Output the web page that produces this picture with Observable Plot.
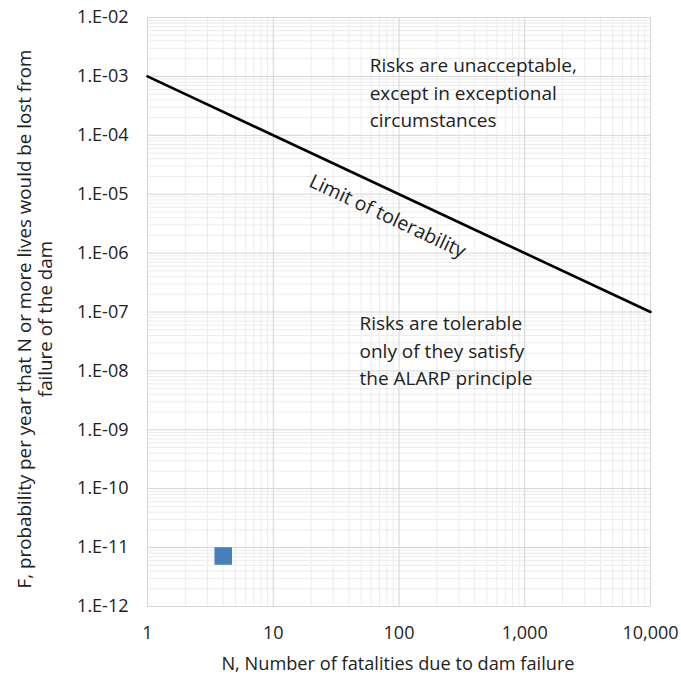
<!DOCTYPE html>
<html>
<head>
<meta charset="utf-8">
<script src="https://cdn.jsdelivr.net/npm/d3@7"></script>
<script src="https://cdn.jsdelivr.net/npm/@observablehq/plot@0.6"></script>
<style>
  html, body { margin: 0; padding: 0; background: #fff; }
  #chart { width: 681px; height: 676px; }
  svg { font-family: "Open Sans", "Noto Sans", sans-serif; }
</style>
</head>
<body>
<div id="chart"></div>
<script>
// Data
const limitN = [1, 10000];
const limitF = [1e-3, 1e-7];
const damN = [4];
const damF = [7.2e-12];
const xTicks = [1, 10, 100, 1000, 10000];
const yTicks = [1e-12, 1e-11, 1e-10, 1e-9, 1e-8, 1e-7, 1e-6, 1e-5, 1e-4, 1e-3, 1e-2];
const textUnacceptable = ["Risks are unacceptable,", "except in exceptional", "circumstances"];
const textTolerable = ["Risks are tolerable", "only of they satisfy", "the ALARP principle"];
const textLimit = "Limit of tolerability";
const xTitle = "N, Number of fatalities due to dam failure";
const yTitle = ["F, probability per year that N or more lives would be lost from", "failure of the dam"];

const limit = limitN.map((n, i) => ({N: n, F: limitF[i]}));
const dam = damN.map((n, i) => ({N: n, F: damF[i]}));

// grid values
const xMinor = [];
for (let e = 0; e < 4; e++) for (let k = 2; k <= 9; k++) xMinor.push(k * 10 ** e);
const yMinor = [];
for (let e = -12; e < -2; e++) for (let k = 2; k <= 9; k++) yMinor.push(k * 10 ** e);

const yFmt = d => "1.E-" + String(Math.round(-Math.log10(d))).padStart(2, "0");

const plot = Plot.plot({
  width: 681,
  height: 676,
  marginLeft: 147,
  marginRight: 31,
  marginTop: 17,
  marginBottom: 70,
  style: {fontFamily: "'Open Sans', sans-serif", fontSize: "18px", color: "#222", background: "#fff"},
  x: {type: "log", domain: [1, 10000], label: null},
  y: {type: "log", domain: [1e-12, 1e-2], label: null},
  marks: [
    Plot.ruleX(xMinor, {stroke: "#ececec", strokeWidth: 1}),
    Plot.ruleY(yMinor, {stroke: "#ececec", strokeWidth: 1}),
    Plot.ruleX(xTicks, {stroke: "#d4d4d4", strokeWidth: 1}),
    Plot.ruleY(yTicks, {stroke: "#d4d4d4", strokeWidth: 1}),
    Plot.line(limit, {x: "N", y: "F", stroke: "#000", strokeWidth: 2.6}),
    Plot.dot(dam, {x: "N", y: "F", symbol: "square", r: 9.9, fill: "#4a7ebb", stroke: "none"}),
    Plot.axisX({ticks: xTicks, tickFormat: d3.format(","), tickSize: 0, tickPadding: 20, label: null, fontSize: 18}),
    Plot.axisY({ticks: yTicks, tickFormat: yFmt, tickSize: 0, tickPadding: 19, label: null, fontSize: 18})
  ]
});

const svg = d3.select(plot);
svg.selectAll('g[aria-label="x-axis tick label"], g[aria-label="y-axis tick label"]')
  .style("font-size", "18px").attr("fill", "#222");

const sx = plot.scale("x"), sy = plot.scale("y");
const add = (x, y, lines, opts = {}) => {
  const t = svg.append("text")
    .attr("x", x).attr("y", y)
    .attr("font-size", opts.size || 19)
    .attr("fill", "#222")
    .attr("text-anchor", opts.anchor || "start");
  if (opts.rotate != null) t.attr("transform", `rotate(${opts.rotate},${x},${y})`);
  lines.forEach((l, i) => t.append("tspan").attr("x", x).attr("dy", i === 0 ? "0.35em" : (opts.lh || 27.5) + "px").text(l));
};
add(sx.apply(59), sy.apply(1.5e-3), textUnacceptable);
add(sx.apply(49), sy.apply(6.2e-8), textTolerable);
const ang = Math.atan2(sy.apply(1e-7) - sy.apply(1e-3), sx.apply(10000) - sx.apply(1)) * 180 / Math.PI;
add(sx.apply(82), sy.apply(4.2e-6), [textLimit], {anchor: "middle", rotate: ang, size: 19.5});

// axis titles
svg.append("text").attr("x", 398).attr("y", 664).attr("text-anchor", "middle")
  .attr("font-size", 18.2).attr("fill", "#222").attr("dy", "0.35em").text(xTitle);
const yt = svg.append("text").attr("transform", `translate(24,319) rotate(-90)`)
  .attr("text-anchor", "middle").attr("font-size", 18.8).attr("fill", "#222");
yt.append("tspan").attr("x", 0).attr("dy", "0.35em").text(yTitle[0]);
yt.append("tspan").attr("x", 0).attr("dy", "21px").text(yTitle[1]);

document.getElementById("chart").appendChild(plot);
</script>
</body>
</html>
